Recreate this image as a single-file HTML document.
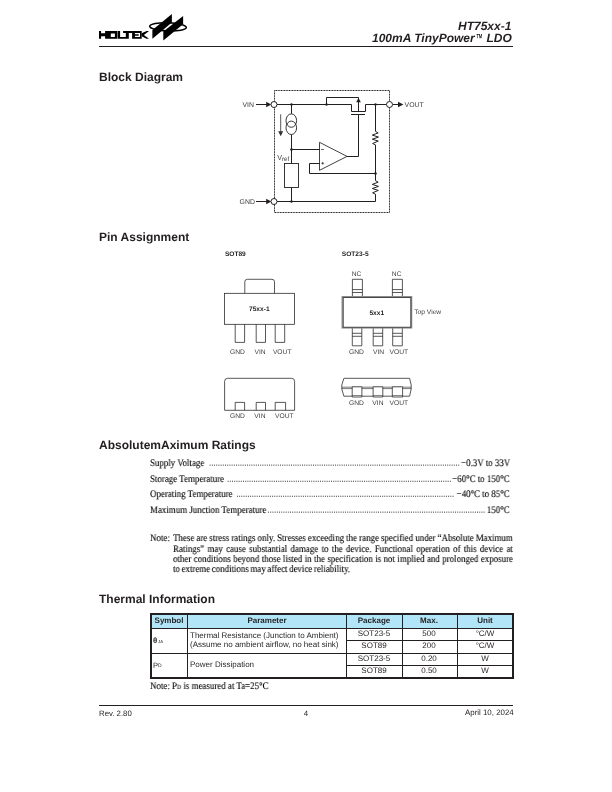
<!DOCTYPE html>
<html><head><meta charset="utf-8">
<style>
html,body{margin:0;padding:0;background:#fff;}
body{width:612px;height:792px;position:relative;overflow:hidden;color:#231f20;font-family:"Liberation Sans",sans-serif;}
.a{position:absolute;white-space:pre;line-height:1;will-change:transform;}
.t{font-family:"Liberation Serif",serif;color:#000;-webkit-text-stroke:0.12px #000;}
.h{font-weight:bold;font-size:12px;}
.hdr{font-weight:bold;font-style:italic;font-size:12px;right:100.5px;text-align:right;}
.sx{transform-origin:0 0;transform:scaleX(0.89);}
.sxr{transform-origin:100% 0;transform:scaleX(0.89);}
.jl{text-align:justify;text-align-last:justify;}
.ws{word-spacing:-0.7px;}
.r{position:absolute;background:#231f20;}
svg{position:absolute;left:0;top:0;overflow:visible;text-rendering:geometricPrecision;}
.a{text-rendering:geometricPrecision;}
</style></head><body>

<svg width="612" height="792" viewBox="0 0 612 792">
 <g fill="#000" fill-rule="evenodd">
  <path d="M99 31H101.1V33.3H105.1V31H117.4V38.7H105.1V36.3H101.1V38.7H99Z M110.8 33.4V37.1H114.9V33.4Z"/>
  <path fill-rule="nonzero" d="M117.8 31H120.1V38.7H117.8Z M120.1 36.9H128.8V38.7H120.1Z M123.1 31H132.2V33.1H123.1Z M125.8 31H128.8V38.7H125.8Z"/>
  <path d="M132.1 31H141.7V38.7H132.1Z M134.9 32.9H140V37H134.9V35.7H138.7V34.2H134.9Z"/>
  <path d="M141.6 33.3L146.6 31H149L143.9 34.9L149 38.7H146.6L141.6 36.3Z"/>
 </g>
 <ellipse cx="168" cy="26.9" rx="18.3" ry="4.1" transform="rotate(2 168 26.9)" fill="#fff" stroke="#000" stroke-width="1.6"/>
 <g fill="#000">
  <path d="M171.9 14V22.5L152.4 38.7V30Z"/>
  <path d="M183.1 16V24.3L163.3 40.4V31.5Z"/>
 </g>
</svg>

<div class="a hdr" style="top:19.9px;">HT75xx-1</div>
<div class="a hdr" style="top:32.3px;">100mA TinyPower<span style="display:inline-block;width:8.4px;overflow:visible;"><span style="display:inline-block;font-size:13px;line-height:1;vertical-align:top;transform:translate(0.9px,-0.2px) scaleX(0.5);transform-origin:0 0;">™</span></span> LDO</div>
<div class="r" style="left:98.9px;top:45.85px;width:413.9px;height:1.2px;"></div>
<div class="a h" style="left:99px;top:70.84px;">Block Diagram</div>
<div class="a h" style="left:99px;top:230.54px;">Pin Assignment</div>
<div class="a h" style="left:99px;top:439.24px;">AbsolutemAximum Ratings</div>
<div class="a h" style="left:99px;top:593.04px;">Thermal Information</div>
<!-- block diagram -->
<svg width="612" height="792" viewBox="0 0 612 792">
 <g fill="none" stroke="#231f20" stroke-width="1">
  <path d="M274.5 90.5H389.5V212.5H274.5Z" stroke-dasharray="1.05 0.55" stroke-width="1"/>
  <path d="M256 104.5H267"/>
  <path d="M277 104.5H351.5V111.5H365.5V104.5H386.5"/>
  <path d="M392.5 104.5H398.5"/>
  <path d="M326.5 104.5V97.5H358.5V111.5"/>
  <path d="M351 114.5H365"/>
  <path d="M358.5 114.5V156.5H347"/>
  <path d="M291.5 104.5V113.8M291.5 134.6V163.5"/>
  <ellipse cx="291.3" cy="120.6" rx="5.3" ry="6.7" stroke-width="0.9"/>
  <ellipse cx="291.3" cy="127.8" rx="5.3" ry="6.7" stroke-width="0.9"/>
  <path d="M280.7 114.3V132.5" stroke="#444" stroke-width="0.9"/>
  <rect x="284.5" y="163.5" width="14" height="24" stroke-width="0.9"/>
  <path d="M291.5 187.5V201.5"/>
  <path d="M291.5 149.5H319.5"/>
  <path d="M319.5 142.3V170.3L347 156.4Z" stroke-width="0.85"/>
  <path d="M321.1 149.5H323.9M321.3 163.3H324.1M322.7 161.9V164.7" stroke-width="0.7"/>
  <path d="M319.5 163.5H309.5V173.5H375.5"/>
  <path d="M375.5 104.5V131.4L378.2 132.9L372.3 135.1L378.5 137.1L372.3 139.2L378.3 141.1L372.6 143.5L375.5 144.9V180.7L378.2 182.2L372.3 184.4L378.5 186.4L372.3 188.5L378.3 190.4L372.6 192.8L375.5 194.2V201.5H277"/>
  <path d="M256 201.5H267"/>
 </g>
 <g fill="#231f20">
  <path d="M266.2 101.7L271.2 104.5L266.2 107.3Z"/>
  <path d="M266.2 198.7L271.2 201.5L266.2 204.3Z"/>
  <path d="M398 101.7L403.4 104.5L398 107.3Z"/>
  <path d="M278.2 131.3L283.2 131.3L280.7 136.2Z" fill="#333"/>
  <path d="M356.2 102.2L358.5 97.8L360.8 102.2Z"/>
  <circle cx="291.5" cy="104.5" r="1.2"/><circle cx="326.5" cy="104.5" r="1.2"/><circle cx="375.5" cy="104.5" r="1.2"/>
  <circle cx="291.5" cy="149.5" r="1.3"/><circle cx="375.5" cy="173.5" r="1.3"/><circle cx="291.5" cy="201.5" r="1.2"/>
 </g>
 <g fill="#fff" stroke="#231f20" stroke-width="1">
  <circle cx="274" cy="104.5" r="3"/><circle cx="274" cy="201.5" r="3"/><circle cx="389.5" cy="104.5" r="3"/>
 </g>
 <g fill="#3d3d3d" font-family="Liberation Sans" font-size="6.9">
  <text x="242.4" y="107">VIN</text>
  <text x="239.6" y="204">GND</text>
  <text x="404.6" y="107">VOUT</text>
  <text x="277.3" y="160.2" font-size="7.2">V</text><text x="281.9" y="161" font-size="6.3">ref</text>
 </g>
</svg>

<!-- pin assignment -->
<svg width="612" height="792" viewBox="0 0 612 792">
 <g fill="#231f20" font-family="Liberation Sans" font-weight="bold" font-size="6.6">
  <text x="224.9" y="256">SOT89</text>
  <text x="341.8" y="256">SOT23-5</text>
  <text x="259.3" y="311.3" text-anchor="middle">75xx-1</text>
  <text x="376.8" y="315.1" text-anchor="middle">5xx1</text>
 </g>
 <g fill="#3d3d3d" font-family="Liberation Sans" font-size="6.7">
  <text x="237.5" y="353.8" text-anchor="middle">GND</text>
  <text x="260" y="353.8" text-anchor="middle">VIN</text>
  <text x="282.2" y="353.8" text-anchor="middle">VOUT</text>
  <text x="237.5" y="418.1" text-anchor="middle">GND</text>
  <text x="259.9" y="418.1" text-anchor="middle">VIN</text>
  <text x="284.3" y="418.1" text-anchor="middle">VOUT</text>
  <text x="356.5" y="276.2" text-anchor="middle">NC</text>
  <text x="396.7" y="276.2" text-anchor="middle">NC</text>
  <text x="356.5" y="354" text-anchor="middle">GND</text>
  <text x="378.5" y="354" text-anchor="middle">VIN</text>
  <text x="398.8" y="354" text-anchor="middle">VOUT</text>
  <text x="356.5" y="405.4" text-anchor="middle">GND</text>
  <text x="377.9" y="405.4" text-anchor="middle">VIN</text>
  <text x="398.8" y="405.4" text-anchor="middle">VOUT</text>
  <text x="414.2" y="314.1">Top View</text>
 </g>
 <g fill="none" stroke="#231f20" stroke-width="0.75">
  <!-- SOT89 top -->
  <path d="M244.8 293.3V281.8Q244.8 279.3 247.3 279.3H272Q274.5 279.3 274.5 281.8V293.3"/>
  <rect x="224.6" y="293.3" width="70" height="31"/>
  <path d="M235.2 324.3V342.4H244.6V324.3M256.2 324.3V342.4H265.5V324.3M275.2 324.3V342.4H284.7V324.3"/>
  <!-- SOT89 bottom -->
  <path d="M224.6 410.3V381.3Q224.6 378.3 227.6 378.3H291.6Q294.6 378.3 294.6 381.3V410.3Z"/>
  <path d="M235.2 410.3V402.4H244.6V410.3M256.2 410.3V402.4H265.5V410.3M275.2 410.3V402.4H285.6V410.3"/>
  <!-- SOT23 top pins -->
  <path d="M352.4 297V279.3H362.4V297M352.4 289.6H362.4M352.4 292.5H362.4"/>
  <path d="M392.4 297V279.3H402.4V297M392.4 289.6H402.4M392.4 292.5H402.4"/>
  <!-- SOT23 bottom pins -->
  <path d="M352.3 328V345.8H361.8V328M352.3 333.3H361.8M352.3 336.3H361.8"/>
  <path d="M373.2 328V345.8H382.7V328M373.2 333.3H382.7M373.2 336.3H382.7"/>
  <path d="M392.7 328V345.8H402.3V328M392.7 333.3H402.3M392.7 336.3H402.3"/>
  <!-- SOT23 side -->
  <path d="M343.9 378.3H409.6L411.2 385V389L409.6 396.2H343.9L341.8 389V385Z"/>
  <path d="M341.8 387.2H411.2M341.8 388.6H411.2" stroke-width="0.6"/>
  <path d="M352.2 386.8H361.9V397H352.2ZM373.1 386.8H382.8V397H373.1ZM392.3 386.8H402.6V397H392.3Z" fill="#fff"/>
  <path d="M352.2 395.6H361.9M373.1 395.6H382.8M392.3 395.6H402.6" stroke-width="0.6"/>
 </g>
 <!-- SOT23 body with shadow -->
 <rect x="342.2" y="296.7" width="69.4" height="31.2" fill="none" stroke="#888" stroke-width="1.3"/>
 <rect x="343.2" y="297.6" width="67.6" height="29.6" fill="#fff" stroke="#231f20" stroke-width="0.8"/>
 <text x="376.8" y="315.1" text-anchor="middle" fill="#231f20" font-family="Liberation Sans" font-weight="bold" font-size="6.6">5xx1</text>
</svg>


<div class="a t sx" style="left:149.6px;top:458.62px;font-size:10px;">Supply Voltage</div>
<div class="a t sxr" style="right:102.10px;top:458.62px;font-size:10px;">−0.3V to 33V</div>
<div class="a t sx" style="left:149.6px;top:474.72px;font-size:10px;">Storage Temperature</div>
<div class="a t sxr" style="right:102.10px;top:474.72px;font-size:10px;">−60°C to 150°C</div>
<div class="a t sx" style="left:149.6px;top:489.72px;font-size:10px;">Operating Temperature</div>
<div class="a t sxr" style="right:102.10px;top:489.72px;font-size:10px;">−40°C to 85°C</div>
<div class="a t sx" style="left:149.6px;top:505.62px;font-size:10px;">Maximum Junction Temperature</div>
<div class="a t sxr" style="right:102.10px;top:505.62px;font-size:10px;">150°C</div>
<svg width="612" height="792"><g stroke="#231f20" stroke-width="0.95" stroke-dasharray="0.95 1.25"><path d="M209.65 465.15H459.20"/><path d="M227.65 481.25H450.80"/><path d="M236.95 496.25H453.50"/><path d="M268.05 512.15H484.60"/></g></svg>
<div class="a t sx" style="left:150px;top:533.62px;font-size:10px;">Note:</div>
<div class="a t sx ws jl" style="left:172.6px;top:533.62px;font-size:10px;width:381.91px;">These are stress ratings only. Stresses exceeding the range specified under “Absolute Maximum</div>
<div class="a t sx ws jl" style="left:172.6px;top:544.52px;font-size:10px;width:381.91px;">Ratings” may cause substantial damage to the device. Functional operation of this device at</div>
<div class="a t sx ws jl" style="left:172.6px;top:554.52px;font-size:10px;width:381.91px;">other conditions beyond those listed in the specification is not implied and prolonged exposure</div>
<div class="a t sx ws" style="left:172.6px;top:564.73px;font-size:10px;">to extreme conditions may affect device reliability.</div>
<div class="r" style="left:150.4px;top:613.3px;width:363.70px;height:65.40px;background:#231f20;"></div>
<div class="r" style="left:152.00px;top:615.00px;width:360.40px;height:62.00px;background:#fff;"></div>
<div class="r" style="left:152.00px;top:615.00px;width:360.40px;height:12.50px;background:#b3e5f8;"></div>
<div class="r" style="left:150.4px;top:627.5px;width:363.70px;height:1px;"></div>
<div class="r" style="left:150.4px;top:652.7px;width:363.70px;height:1.3px;"></div>
<div class="r" style="left:346.3px;top:640.1px;width:167.80px;height:1px;"></div>
<div class="r" style="left:346.3px;top:665.2px;width:167.80px;height:1px;"></div>
<div class="r" style="left:186.8px;top:613.3px;width:1.3px;height:65.40px;"></div>
<div class="r" style="left:345.9px;top:613.3px;width:1.0px;height:65.40px;"></div>
<div class="r" style="left:401.9px;top:613.3px;width:1.1px;height:65.40px;"></div>
<div class="r" style="left:456.9px;top:613.3px;width:1.0px;height:65.40px;"></div>
<div class="a" style="left:69.10px;width:200px;text-align:center;top:617.03px;font-size:8px;font-weight:bold;color:#231f20;">Symbol</div>
<div class="a" style="left:166.90px;width:200px;text-align:center;top:617.03px;font-size:8px;font-weight:bold;color:#231f20;">Parameter</div>
<div class="a" style="left:273.70px;width:200px;text-align:center;top:617.03px;font-size:8px;font-weight:bold;color:#231f20;">Package</div>
<div class="a" style="left:329.40px;width:200px;text-align:center;top:617.03px;font-size:8px;font-weight:bold;color:#231f20;">Max.</div>
<div class="a" style="left:384.70px;width:200px;text-align:center;top:617.03px;font-size:8px;font-weight:bold;color:#231f20;">Unit</div>
<div class="a" style="left:273.70px;width:200px;text-align:center;top:629.73px;font-size:8px;color:#231f20;">SOT23-5</div>
<div class="a" style="left:329.40px;width:200px;text-align:center;top:629.73px;font-size:8px;color:#231f20;">500</div>
<div class="a" style="left:384.70px;width:200px;text-align:center;top:629.73px;font-size:8px;color:#231f20;">°C/W</div>
<div class="a" style="left:273.70px;width:200px;text-align:center;top:642.43px;font-size:8px;color:#231f20;">SOT89</div>
<div class="a" style="left:329.40px;width:200px;text-align:center;top:642.43px;font-size:8px;color:#231f20;">200</div>
<div class="a" style="left:384.70px;width:200px;text-align:center;top:642.43px;font-size:8px;color:#231f20;">°C/W</div>
<div class="a" style="left:273.70px;width:200px;text-align:center;top:655.23px;font-size:8px;color:#231f20;">SOT23-5</div>
<div class="a" style="left:329.40px;width:200px;text-align:center;top:655.23px;font-size:8px;color:#231f20;">0.20</div>
<div class="a" style="left:384.70px;width:200px;text-align:center;top:655.23px;font-size:8px;color:#231f20;">W</div>
<div class="a" style="left:273.70px;width:200px;text-align:center;top:667.23px;font-size:8px;color:#231f20;">SOT89</div>
<div class="a" style="left:329.40px;width:200px;text-align:center;top:667.23px;font-size:8px;color:#231f20;">0.50</div>
<div class="a" style="left:384.70px;width:200px;text-align:center;top:667.23px;font-size:8px;color:#231f20;">W</div>
<div class="a" style="left:190.20px;top:631.63px;font-size:8px;color:#231f20;">Thermal Resistance (Junction to Ambient)</div>
<div class="a" style="left:190.20px;top:641.43px;font-size:8px;color:#231f20;">(Assume no ambient airflow, no heat sink)</div>
<div class="a" style="left:190.20px;top:661.33px;font-size:8px;color:#231f20;">Power Dissipation</div>
<div class="a" style="left:153.10px;top:637.00px;font-size:7.8px;font-weight:bold;color:#231f20;">θ</div>
<div class="a" style="left:157.60px;top:639.76px;font-size:4.3px;color:#231f20;">JA</div>
<div class="a" style="left:153.20px;top:661.77px;font-size:7.6px;color:#231f20;">P</div>
<div class="a" style="left:158.20px;top:664.27px;font-size:5px;color:#231f20;">D</div>
<div class="a t sx" style="left:150px;top:682.32px;font-size:10px;">Note: P<span style="font-size:6.5px;">D</span> is measured at Ta=25°C</div>
<div class="r" style="left:98.9px;top:704.9px;width:414px;height:1.1px;"></div>
<div class="a" style="left:99.00px;top:709.90px;font-size:7.8px;color:#231f20;">Rev. 2.80</div>
<div class="a" style="left:205.70px;width:200px;text-align:center;top:709.60px;font-size:7.8px;color:#231f20;">4</div>
<div class="a" style="right:98.80px;top:709.21px;font-size:7.9px;">April 10, 2024</div>
</body></html>
